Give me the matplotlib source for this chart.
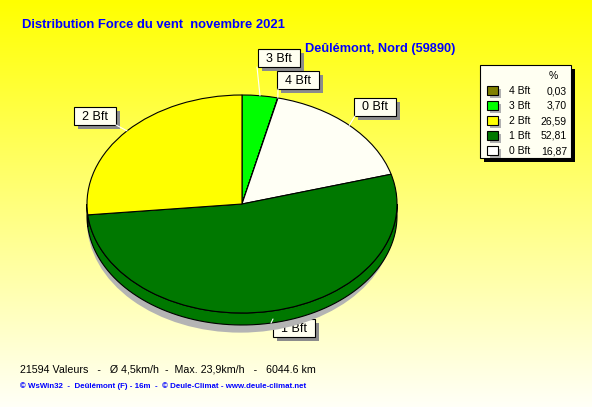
import numpy as np
import matplotlib
matplotlib.use("Agg")
import matplotlib.pyplot as plt
from matplotlib.patches import Ellipse, Rectangle

# data (pie order clockwise from 12 o'clock)
labels = ["3 Bft", "4 Bft", "0 Bft", "1 Bft", "2 Bft"]
values = [3.70, 0.03, 16.87, 52.81, 26.59]
colors = ["#00FF00", "#808000", "#FFFFF5", "#007800", "#FFFF00"]

# legend (top to bottom)
leg_labels = ["4 Bft", "3 Bft", "2 Bft", "1 Bft", "0 Bft"]
leg_values = [0.03, 3.70, 26.59, 52.81, 16.87]
leg_colors = ["#808000", "#00FF00", "#FFFF00", "#007800", "#FFFFFF"]

title = "Distribution Force du vent  novembre 2021"
place = "Deûlémont, Nord (59890)"
stats = "21594 Valeurs   -   Ø 4,5km/h  -  Max. 23,9km/h   -   6044.6 km"
footer = "© WsWin32  -  Deûlémont (F) - 16m  -  © Deule-Climat - www.deule-climat.net"

W, H = 592, 407
fig = plt.figure(figsize=(W / 100, H / 100), dpi=100)

# background gradient, pixel coordinates
bg = fig.add_axes([0, 0, 1, 1])
bg.set_xlim(0, W)
bg.set_ylim(H, 0)
bg.axis("off")
grad = np.linspace(0, 1, 256)[:, None]
top = np.array([1.0, 1.0, 0.0])
bot = np.array([1.0, 1.0, 0.97])
img = top[None, None, :] * (1 - grad[..., None]) + bot[None, None, :] * grad[..., None]
bg.imshow(img, extent=[0, W, H, 0], aspect="auto", zorder=0)

# pie axes placed so the unit circle becomes the ellipse
cx, cy, rx, ry = 242, 204, 155, 109
mx0, mx1, my0, my1 = 1.3, 1.3, 1.45, 1.3
ax = fig.add_axes([(cx - mx0 * rx) / W, (H - (cy + my0 * ry)) / H,
                   (mx0 + mx1) * rx / W, (my0 + my1) * ry / H])
wedges, _ = ax.pie(values, colors=colors, startangle=90, counterclock=False,
                   wedgeprops=dict(edgecolor="black", linewidth=0.8, zorder=3))
ax.set_aspect("auto")
ax.set_xlim(-mx0, mx1)
ax.set_ylim(-my0, my1)
ax.axis("off")

depth = 12 / ry
ax.add_patch(Ellipse((-0.01, -depth - 0.05), 1.98, 2.04, facecolor="#B4B4B4",
                     edgecolor="none", zorder=1))
for w, c in zip(wedges, colors):
    for off in (-360, 0, 360):
        a = max(w.theta1, 180 + off)
        b = min(w.theta2, 360 + off)
        if a < b:
            t = np.radians(np.linspace(a, b, 80))
            xs = np.concatenate([np.cos(t), np.cos(t[::-1])])
            ys = np.concatenate([np.sin(t), np.sin(t[::-1]) - depth])
            ax.fill(xs, ys, facecolor=c, edgecolor="black", linewidth=0.8, zorder=2)

# wedge labels with leader lines (box top-left corners, pixels)
box_w, box_h = 42, 18
label_box = {"3 Bft": (258, 49), "4 Bft": (277, 71), "0 Bft": (354, 98),
             "2 Bft": (74, 107), "1 Bft": (273, 319)}
line_end = {"3 Bft": (257, 67), "4 Bft": (278, 89), "0 Bft": (355, 116),
            "2 Bft": (116, 125), "1 Bft": (273, 319)}
for w, lab in zip(wedges, labels):
    mid = np.radians((w.theta1 + w.theta2) / 2)
    ex, ey = np.cos(mid), np.sin(mid)
    if ey < 0:
        ey -= depth
    lx, ly = line_end[lab]
    ax.annotate("", xy=(ex, ey), xytext=(lx, ly), textcoords=bg.transData,
                arrowprops=dict(arrowstyle="-", color="white", lw=0.8,
                                shrinkA=0, shrinkB=0), zorder=4)
    bx, by = label_box[lab]
    bg.add_patch(Rectangle((bx + 4, by + 4), box_w, box_h, facecolor="#8C8C8C",
                           edgecolor="none", zorder=5))
    bg.add_patch(Rectangle((bx, by), box_w, box_h, facecolor="#FFFFF0",
                           edgecolor="black", lw=0.8, zorder=6))
    bg.text(bx + box_w / 2, by + box_h / 2 + 0.5, lab, fontsize=9,
            family="Liberation Sans", color="black", ha="center", va="center",
            zorder=7)

# legend box
bg.add_patch(Rectangle((484, 69), 91, 93, facecolor="black", zorder=5))
bg.add_patch(Rectangle((480, 65), 91, 93, facecolor="#FFFFF2", edgecolor="black",
                       lw=0.8, zorder=6))
bg.text(553, 76, "%", fontsize=7.5, family="Liberation Sans", ha="center",
        va="center", zorder=7)
for i, (lab, val, c) in enumerate(zip(leg_labels, leg_values, leg_colors)):
    y = 91 + i * 15
    bg.add_patch(Rectangle((490, y - 2), 11, 9, facecolor="#B0B0B0", zorder=7))
    bg.add_patch(Rectangle((487, y - 5), 11, 9, facecolor=c, edgecolor="black",
                           lw=0.8, zorder=8))
    bg.text(509, y, lab, fontsize=7.5, family="Liberation Sans", va="center",
            zorder=8)
    bg.text(567, y, f"{val:.2f}".replace(".", ","), fontsize=7.5,
            family="Liberation Sans", va="center", ha="right", zorder=8)

# texts
bg.text(22, 25, title, fontsize=9.4, fontweight="bold", family="Liberation Sans",
        color="#0000FF", va="center")
bg.text(305, 49, place, fontsize=9.2, fontweight="bold", family="Liberation Sans",
        color="#0000FF", va="center")
bg.text(20, 369, stats, fontsize=7.7, family="Liberation Sans", color="black",
        va="center")
bg.text(20, 386, footer, fontsize=5.7, fontweight="bold", family="Liberation Sans",
        color="#0000FF", va="center")

fig.savefig("out.png", dpi=100)
